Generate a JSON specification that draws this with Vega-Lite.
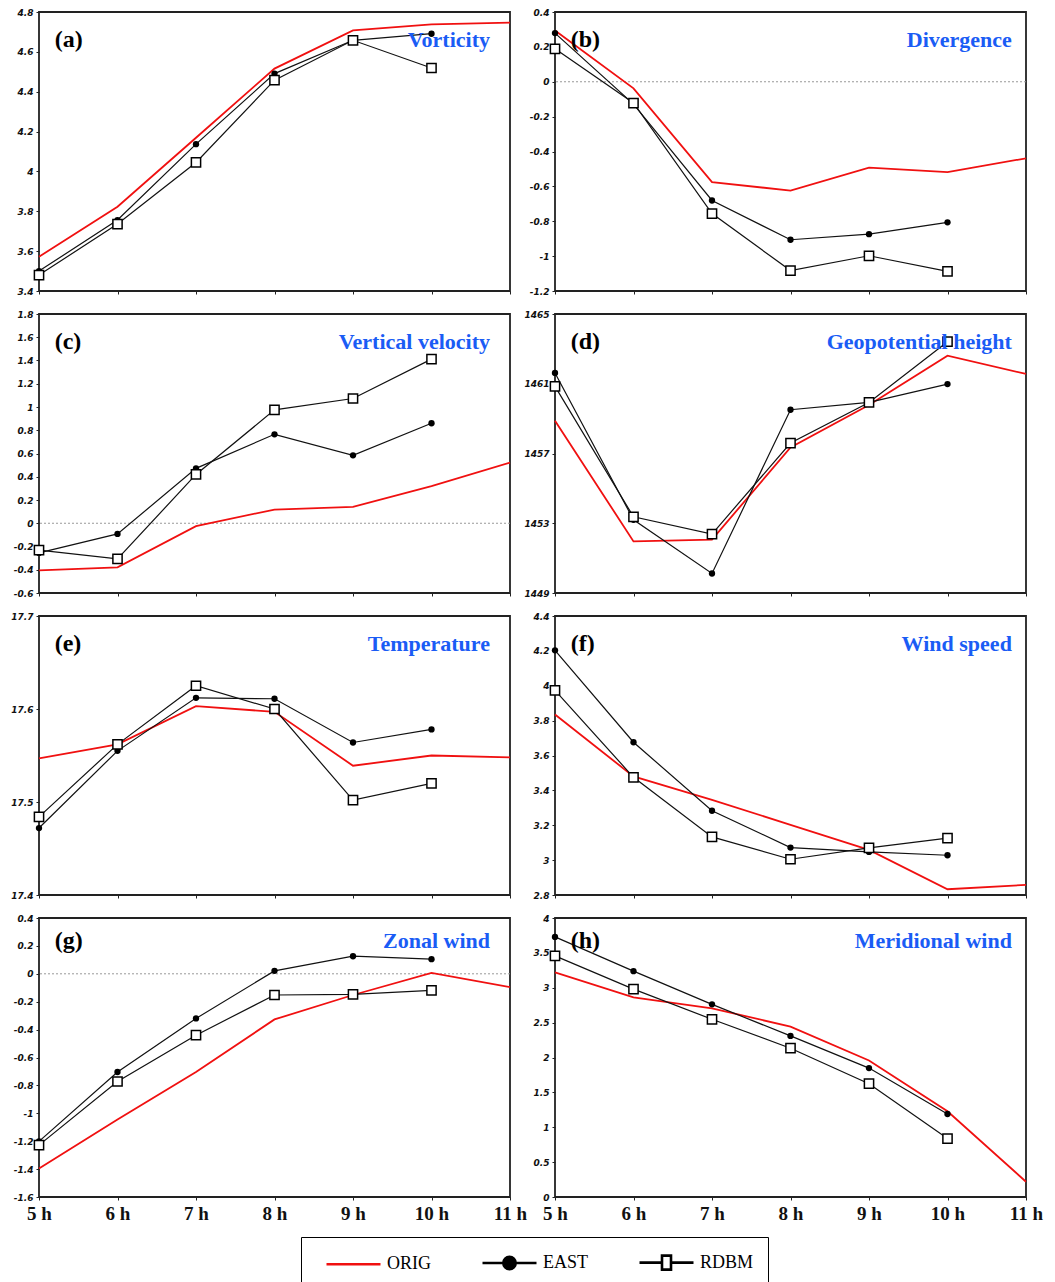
{
  "$schema": "https://vega.github.io/schema/vega-lite/v6.json",
  "background": "white",
  "padding": {"left": 9, "top": 7, "right": 5, "bottom": 0},
  "bounds": "flush",
  "spacing": {"row": 23, "column": 45},
  "columns": 2,
  "data": {"values": [
    {"panel":"a","series":"ORIG","hour":5,"value":3.572},{"panel":"a","series":"ORIG","hour":6,"value":3.823},{"panel":"a","series":"ORIG","hour":7,"value":4.169},{"panel":"a","series":"ORIG","hour":8,"value":4.516},{"panel":"a","series":"ORIG","hour":9,"value":4.708},{"panel":"a","series":"ORIG","hour":10,"value":4.738},{"panel":"a","series":"ORIG","hour":11,"value":4.747},
    {"panel":"a","series":"EAST","hour":5,"value":3.5},{"panel":"a","series":"EAST","hour":6,"value":3.756},{"panel":"a","series":"EAST","hour":7,"value":4.137},{"panel":"a","series":"EAST","hour":8,"value":4.491},{"panel":"a","series":"EAST","hour":9,"value":4.658},{"panel":"a","series":"EAST","hour":10,"value":4.691},
    {"panel":"a","series":"RDBM","hour":5,"value":3.48},{"panel":"a","series":"RDBM","hour":6,"value":3.736},{"panel":"a","series":"RDBM","hour":7,"value":4.045},{"panel":"a","series":"RDBM","hour":8,"value":4.458},{"panel":"a","series":"RDBM","hour":9,"value":4.658},{"panel":"a","series":"RDBM","hour":10,"value":4.519},
    {"panel":"b","series":"ORIG","hour":5,"value":0.294},{"panel":"b","series":"ORIG","hour":6,"value":-0.038},{"panel":"b","series":"ORIG","hour":7,"value":-0.576},{"panel":"b","series":"ORIG","hour":8,"value":-0.624},{"panel":"b","series":"ORIG","hour":9,"value":-0.493},{"panel":"b","series":"ORIG","hour":10,"value":-0.518},{"panel":"b","series":"ORIG","hour":11,"value":-0.439},
    {"panel":"b","series":"EAST","hour":5,"value":0.279},{"panel":"b","series":"EAST","hour":6,"value":-0.128},{"panel":"b","series":"EAST","hour":7,"value":-0.681},{"panel":"b","series":"EAST","hour":8,"value":-0.906},{"panel":"b","series":"EAST","hour":9,"value":-0.874},{"panel":"b","series":"EAST","hour":10,"value":-0.806},
    {"panel":"b","series":"RDBM","hour":5,"value":0.189},{"panel":"b","series":"RDBM","hour":6,"value":-0.122},{"panel":"b","series":"RDBM","hour":7,"value":-0.756},{"panel":"b","series":"RDBM","hour":8,"value":-1.083},{"panel":"b","series":"RDBM","hour":9,"value":-0.998},{"panel":"b","series":"RDBM","hour":10,"value":-1.087},
    {"panel":"c","series":"ORIG","hour":5,"value":-0.405},{"panel":"c","series":"ORIG","hour":6,"value":-0.379},{"panel":"c","series":"ORIG","hour":7,"value":-0.025},{"panel":"c","series":"ORIG","hour":8,"value":0.118},{"panel":"c","series":"ORIG","hour":9,"value":0.141},{"panel":"c","series":"ORIG","hour":10,"value":0.32},{"panel":"c","series":"ORIG","hour":11,"value":0.521},
    {"panel":"c","series":"EAST","hour":5,"value":-0.255},{"panel":"c","series":"EAST","hour":6,"value":-0.092},{"panel":"c","series":"EAST","hour":7,"value":0.472},{"panel":"c","series":"EAST","hour":8,"value":0.765},{"panel":"c","series":"EAST","hour":9,"value":0.584},{"panel":"c","series":"EAST","hour":10,"value":0.86},
    {"panel":"c","series":"RDBM","hour":5,"value":-0.232},{"panel":"c","series":"RDBM","hour":6,"value":-0.307},{"panel":"c","series":"RDBM","hour":7,"value":0.42},{"panel":"c","series":"RDBM","hour":8,"value":0.975},{"panel":"c","series":"RDBM","hour":9,"value":1.073},{"panel":"c","series":"RDBM","hour":10,"value":1.412},
    {"panel":"d","series":"ORIG","hour":5,"value":1458.88},{"panel":"d","series":"ORIG","hour":6,"value":1451.96},{"panel":"d","series":"ORIG","hour":7,"value":1452.06},{"panel":"d","series":"ORIG","hour":8,"value":1457.35},{"panel":"d","series":"ORIG","hour":9,"value":1459.78},{"panel":"d","series":"ORIG","hour":10,"value":1462.61},{"panel":"d","series":"ORIG","hour":11,"value":1461.56},
    {"panel":"d","series":"EAST","hour":5,"value":1461.62},{"panel":"d","series":"EAST","hour":6,"value":1453.2},{"panel":"d","series":"EAST","hour":7,"value":1450.12},{"panel":"d","series":"EAST","hour":8,"value":1459.51},{"panel":"d","series":"EAST","hour":9,"value":1459.93},{"panel":"d","series":"EAST","hour":10,"value":1460.98},
    {"panel":"d","series":"RDBM","hour":5,"value":1460.85},{"panel":"d","series":"RDBM","hour":6,"value":1453.37},{"panel":"d","series":"RDBM","hour":7,"value":1452.38},{"panel":"d","series":"RDBM","hour":8,"value":1457.6},{"panel":"d","series":"RDBM","hour":9,"value":1459.93},{"panel":"d","series":"RDBM","hour":10,"value":1463.41},
    {"panel":"e","series":"ORIG","hour":5,"value":17.547},{"panel":"e","series":"ORIG","hour":6,"value":17.562},{"panel":"e","series":"ORIG","hour":7,"value":17.603},{"panel":"e","series":"ORIG","hour":8,"value":17.597},{"panel":"e","series":"ORIG","hour":9,"value":17.539},{"panel":"e","series":"ORIG","hour":10,"value":17.55},{"panel":"e","series":"ORIG","hour":11,"value":17.548},
    {"panel":"e","series":"EAST","hour":5,"value":17.472},{"panel":"e","series":"EAST","hour":6,"value":17.555},{"panel":"e","series":"EAST","hour":7,"value":17.612},{"panel":"e","series":"EAST","hour":8,"value":17.611},{"panel":"e","series":"EAST","hour":9,"value":17.564},{"panel":"e","series":"EAST","hour":10,"value":17.578},
    {"panel":"e","series":"RDBM","hour":5,"value":17.484},{"panel":"e","series":"RDBM","hour":6,"value":17.562},{"panel":"e","series":"RDBM","hour":7,"value":17.625},{"panel":"e","series":"RDBM","hour":8,"value":17.6},{"panel":"e","series":"RDBM","hour":9,"value":17.502},{"panel":"e","series":"RDBM","hour":10,"value":17.52},
    {"panel":"f","series":"ORIG","hour":5,"value":3.835},{"panel":"f","series":"ORIG","hour":6,"value":3.48},{"panel":"f","series":"ORIG","hour":7,"value":3.346},{"panel":"f","series":"ORIG","hour":8,"value":3.202},{"panel":"f","series":"ORIG","hour":9,"value":3.059},{"panel":"f","series":"ORIG","hour":10,"value":2.833},{"panel":"f","series":"ORIG","hour":11,"value":2.858},
    {"panel":"f","series":"EAST","hour":5,"value":4.203},{"panel":"f","series":"EAST","hour":6,"value":3.676},{"panel":"f","series":"EAST","hour":7,"value":3.283},{"panel":"f","series":"EAST","hour":8,"value":3.072},{"panel":"f","series":"EAST","hour":9,"value":3.047},{"panel":"f","series":"EAST","hour":10,"value":3.028},
    {"panel":"f","series":"RDBM","hour":5,"value":3.973},{"panel":"f","series":"RDBM","hour":6,"value":3.475},{"panel":"f","series":"RDBM","hour":7,"value":3.133},{"panel":"f","series":"RDBM","hour":8,"value":3.005},{"panel":"f","series":"RDBM","hour":9,"value":3.07},{"panel":"f","series":"RDBM","hour":10,"value":3.126},
    {"panel":"g","series":"ORIG","hour":5,"value":-1.396},{"panel":"g","series":"ORIG","hour":6,"value":-1.045},{"panel":"g","series":"ORIG","hour":7,"value":-0.704},{"panel":"g","series":"ORIG","hour":8,"value":-0.327},{"panel":"g","series":"ORIG","hour":9,"value":-0.152},{"panel":"g","series":"ORIG","hour":10,"value":0.006},{"panel":"g","series":"ORIG","hour":11,"value":-0.095},
    {"panel":"g","series":"EAST","hour":5,"value":-1.201},{"panel":"g","series":"EAST","hour":6,"value":-0.704},{"panel":"g","series":"EAST","hour":7,"value":-0.32},{"panel":"g","series":"EAST","hour":8,"value":0.021},{"panel":"g","series":"EAST","hour":9,"value":0.126},{"panel":"g","series":"EAST","hour":10,"value":0.105},
    {"panel":"g","series":"RDBM","hour":5,"value":-1.228},{"panel":"g","series":"RDBM","hour":6,"value":-0.772},{"panel":"g","series":"RDBM","hour":7,"value":-0.44},{"panel":"g","series":"RDBM","hour":8,"value":-0.152},{"panel":"g","series":"RDBM","hour":9,"value":-0.147},{"panel":"g","series":"RDBM","hour":10,"value":-0.119},
    {"panel":"h","series":"ORIG","hour":5,"value":3.219},{"panel":"h","series":"ORIG","hour":6,"value":2.862},{"panel":"h","series":"ORIG","hour":7,"value":2.705},{"panel":"h","series":"ORIG","hour":8,"value":2.443},{"panel":"h","series":"ORIG","hour":9,"value":1.957},{"panel":"h","series":"ORIG","hour":10,"value":1.229},{"panel":"h","series":"ORIG","hour":11,"value":0.219},
    {"panel":"h","series":"EAST","hour":5,"value":3.729},{"panel":"h","series":"EAST","hour":6,"value":3.238},{"panel":"h","series":"EAST","hour":7,"value":2.762},{"panel":"h","series":"EAST","hour":8,"value":2.31},{"panel":"h","series":"EAST","hour":9,"value":1.848},{"panel":"h","series":"EAST","hour":10,"value":1.19},
    {"panel":"h","series":"RDBM","hour":5,"value":3.457},{"panel":"h","series":"RDBM","hour":6,"value":2.981},{"panel":"h","series":"RDBM","hour":7,"value":2.548},{"panel":"h","series":"RDBM","hour":8,"value":2.133},{"panel":"h","series":"RDBM","hour":9,"value":1.624},{"panel":"h","series":"RDBM","hour":10,"value":0.838}
  ]},
  "concat": [
    {
      "width": 471, "height": 279,
      "transform": [{"filter": "datum.panel === 'a'"}],
      "layer": [
        {"transform": [{"filter": "datum.series === 'ORIG'"}], "mark": {"type": "line", "color": "#f01010", "strokeWidth": 1.8},
         "encoding": {"x": {"field": "hour", "type": "quantitative", "scale": {"domain": [5, 11], "nice": false, "zero": false}, "axis": {"title": null, "values": [5,6,7,8,9,10,11], "labels": false}},
                      "y": {"field": "value", "type": "quantitative", "scale": {"domain": [3.4, 4.8], "nice": false, "zero": false}, "axis": {"title": null, "values": [3.4,3.6,3.8,4,4.2,4.4,4.6,4.8], "tickCount": 40, "labelExpr": "'' + datum.value", "labelOverlap": false}}}},
        {"transform": [{"filter": "datum.series === 'EAST'"}], "mark": {"type": "line", "color": "#111", "strokeWidth": 1.2, "point": {"filled": true, "color": "#000", "size": 40}},
         "encoding": {"x": {"field": "hour", "type": "quantitative"}, "y": {"field": "value", "type": "quantitative"}}},
        {"transform": [{"filter": "datum.series === 'RDBM'"}], "mark": {"type": "line", "color": "#111", "strokeWidth": 1.2, "point": {"shape": "square", "filled": true, "fill": "white", "stroke": "#000", "strokeWidth": 1.5, "size": 85}},
         "encoding": {"x": {"field": "hour", "type": "quantitative"}, "y": {"field": "value", "type": "quantitative"}}},
        {"transform": [{"filter": "datum.series === 'ORIG' && datum.hour === 5"}], "mark": {"type": "text", "text": "(a)", "align": "left", "baseline": "alphabetic", "font": "Liberation Serif", "fontSize": 24, "fontWeight": "bold", "color": "#000"},
         "encoding": {"x": {"datum": 5.2}, "y": {"datum": 4.624}}},
        {"transform": [{"filter": "datum.series === 'ORIG' && datum.hour === 5"}], "mark": {"type": "text", "text": "Vorticity", "align": "right", "baseline": "alphabetic", "font": "Liberation Serif", "fontSize": 22, "fontWeight": "bold", "color": "#1a5cf5"},
         "encoding": {"x": {"datum": 10.745}, "y": {"datum": 4.624}}}
      ]
    },
    {
      "width": 471, "height": 279,
      "transform": [{"filter": "datum.panel === 'b'"}],
      "layer": [
        {"transform": [{"filter": "datum.series === 'ORIG' && datum.hour === 5"}], "mark": {"type": "rule", "color": "#999", "strokeDash": [2, 2], "strokeWidth": 1}, "encoding": {"y": {"datum": 0}}},
        {"transform": [{"filter": "datum.series === 'ORIG'"}], "mark": {"type": "line", "color": "#f01010", "strokeWidth": 1.8},
         "encoding": {"x": {"field": "hour", "type": "quantitative", "scale": {"domain": [5, 11], "nice": false, "zero": false}, "axis": {"title": null, "values": [5,6,7,8,9,10,11], "labels": false}},
                      "y": {"field": "value", "type": "quantitative", "scale": {"domain": [-1.2, 0.4], "nice": false, "zero": false}, "axis": {"title": null, "values": [-1.2,-1,-0.8,-0.6,-0.4,-0.2,0,0.2,0.4], "tickCount": 40, "labelExpr": "'' + datum.value", "labelOverlap": false}}}},
        {"transform": [{"filter": "datum.series === 'EAST'"}], "mark": {"type": "line", "color": "#111", "strokeWidth": 1.2, "point": {"filled": true, "color": "#000", "size": 40}},
         "encoding": {"x": {"field": "hour", "type": "quantitative"}, "y": {"field": "value", "type": "quantitative"}}},
        {"transform": [{"filter": "datum.series === 'RDBM'"}], "mark": {"type": "line", "color": "#111", "strokeWidth": 1.2, "point": {"shape": "square", "filled": true, "fill": "white", "stroke": "#000", "strokeWidth": 1.5, "size": 85}},
         "encoding": {"x": {"field": "hour", "type": "quantitative"}, "y": {"field": "value", "type": "quantitative"}}},
        {"transform": [{"filter": "datum.series === 'ORIG' && datum.hour === 5"}], "mark": {"type": "text", "text": "(b)", "align": "left", "baseline": "alphabetic", "font": "Liberation Serif", "fontSize": 24, "fontWeight": "bold", "color": "#000"},
         "encoding": {"x": {"datum": 5.2}, "y": {"datum": 0.199}}},
        {"transform": [{"filter": "datum.series === 'ORIG' && datum.hour === 5"}], "mark": {"type": "text", "text": "Divergence", "align": "right", "baseline": "alphabetic", "font": "Liberation Serif", "fontSize": 22, "fontWeight": "bold", "color": "#1a5cf5"},
         "encoding": {"x": {"datum": 10.82}, "y": {"datum": 0.199}}}
      ]
    },
    {
      "width": 471, "height": 279,
      "transform": [{"filter": "datum.panel === 'c'"}],
      "layer": [
        {"transform": [{"filter": "datum.series === 'ORIG' && datum.hour === 5"}], "mark": {"type": "rule", "color": "#999", "strokeDash": [2, 2], "strokeWidth": 1}, "encoding": {"y": {"datum": 0}}},
        {"transform": [{"filter": "datum.series === 'ORIG'"}], "mark": {"type": "line", "color": "#f01010", "strokeWidth": 1.8},
         "encoding": {"x": {"field": "hour", "type": "quantitative", "scale": {"domain": [5, 11], "nice": false, "zero": false}, "axis": {"title": null, "values": [5,6,7,8,9,10,11], "labels": false}},
                      "y": {"field": "value", "type": "quantitative", "scale": {"domain": [-0.6, 1.8], "nice": false, "zero": false}, "axis": {"title": null, "values": [-0.6,-0.4,-0.2,0,0.2,0.4,0.6,0.8,1,1.2,1.4,1.6,1.8], "tickCount": 40, "labelExpr": "'' + datum.value", "labelOverlap": false}}}},
        {"transform": [{"filter": "datum.series === 'EAST'"}], "mark": {"type": "line", "color": "#111", "strokeWidth": 1.2, "point": {"filled": true, "color": "#000", "size": 40}},
         "encoding": {"x": {"field": "hour", "type": "quantitative"}, "y": {"field": "value", "type": "quantitative"}}},
        {"transform": [{"filter": "datum.series === 'RDBM'"}], "mark": {"type": "line", "color": "#111", "strokeWidth": 1.2, "point": {"shape": "square", "filled": true, "fill": "white", "stroke": "#000", "strokeWidth": 1.5, "size": 85}},
         "encoding": {"x": {"field": "hour", "type": "quantitative"}, "y": {"field": "value", "type": "quantitative"}}},
        {"transform": [{"filter": "datum.series === 'ORIG' && datum.hour === 5"}], "mark": {"type": "text", "text": "(c)", "align": "left", "baseline": "alphabetic", "font": "Liberation Serif", "fontSize": 24, "fontWeight": "bold", "color": "#000"},
         "encoding": {"x": {"datum": 5.2}, "y": {"datum": 1.499}}},
        {"transform": [{"filter": "datum.series === 'ORIG' && datum.hour === 5"}], "mark": {"type": "text", "text": "Vertical velocity", "align": "right", "baseline": "alphabetic", "font": "Liberation Serif", "fontSize": 22, "fontWeight": "bold", "color": "#1a5cf5"},
         "encoding": {"x": {"datum": 10.745}, "y": {"datum": 1.499}}}
      ]
    },
    {
      "width": 471, "height": 279,
      "transform": [{"filter": "datum.panel === 'd'"}],
      "layer": [
        {"transform": [{"filter": "datum.series === 'ORIG'"}], "mark": {"type": "line", "color": "#f01010", "strokeWidth": 1.8},
         "encoding": {"x": {"field": "hour", "type": "quantitative", "scale": {"domain": [5, 11], "nice": false, "zero": false}, "axis": {"title": null, "values": [5,6,7,8,9,10,11], "labels": false}},
                      "y": {"field": "value", "type": "quantitative", "scale": {"domain": [1449, 1465], "nice": false, "zero": false}, "axis": {"title": null, "values": [1449,1453,1457,1461,1465], "tickCount": 40, "labelExpr": "'' + datum.value", "labelOverlap": false}}}},
        {"transform": [{"filter": "datum.series === 'EAST'"}], "mark": {"type": "line", "color": "#111", "strokeWidth": 1.2, "point": {"filled": true, "color": "#000", "size": 40}},
         "encoding": {"x": {"field": "hour", "type": "quantitative"}, "y": {"field": "value", "type": "quantitative"}}},
        {"transform": [{"filter": "datum.series === 'RDBM'"}], "mark": {"type": "line", "color": "#111", "strokeWidth": 1.2, "point": {"shape": "square", "filled": true, "fill": "white", "stroke": "#000", "strokeWidth": 1.5, "size": 85}},
         "encoding": {"x": {"field": "hour", "type": "quantitative"}, "y": {"field": "value", "type": "quantitative"}}},
        {"transform": [{"filter": "datum.series === 'ORIG' && datum.hour === 5"}], "mark": {"type": "text", "text": "(d)", "align": "left", "baseline": "alphabetic", "font": "Liberation Serif", "fontSize": 24, "fontWeight": "bold", "color": "#000"},
         "encoding": {"x": {"datum": 5.2}, "y": {"datum": 1462.99}}},
        {"transform": [{"filter": "datum.series === 'ORIG' && datum.hour === 5"}], "mark": {"type": "text", "text": "Geopotential height", "align": "right", "baseline": "alphabetic", "font": "Liberation Serif", "fontSize": 22, "fontWeight": "bold", "color": "#1a5cf5"},
         "encoding": {"x": {"datum": 10.82}, "y": {"datum": 1462.99}}}
      ]
    },
    {
      "width": 471, "height": 279,
      "transform": [{"filter": "datum.panel === 'e'"}],
      "layer": [
        {"transform": [{"filter": "datum.series === 'ORIG'"}], "mark": {"type": "line", "color": "#f01010", "strokeWidth": 1.8},
         "encoding": {"x": {"field": "hour", "type": "quantitative", "scale": {"domain": [5, 11], "nice": false, "zero": false}, "axis": {"title": null, "values": [5,6,7,8,9,10,11], "labels": false}},
                      "y": {"field": "value", "type": "quantitative", "scale": {"domain": [17.4, 17.7], "nice": false, "zero": false}, "axis": {"title": null, "values": [17.4,17.5,17.6,17.7], "tickCount": 40, "labelExpr": "'' + datum.value", "labelOverlap": false}}}},
        {"transform": [{"filter": "datum.series === 'EAST'"}], "mark": {"type": "line", "color": "#111", "strokeWidth": 1.2, "point": {"filled": true, "color": "#000", "size": 40}},
         "encoding": {"x": {"field": "hour", "type": "quantitative"}, "y": {"field": "value", "type": "quantitative"}}},
        {"transform": [{"filter": "datum.series === 'RDBM'"}], "mark": {"type": "line", "color": "#111", "strokeWidth": 1.2, "point": {"shape": "square", "filled": true, "fill": "white", "stroke": "#000", "strokeWidth": 1.5, "size": 85}},
         "encoding": {"x": {"field": "hour", "type": "quantitative"}, "y": {"field": "value", "type": "quantitative"}}},
        {"transform": [{"filter": "datum.series === 'ORIG' && datum.hour === 5"}], "mark": {"type": "text", "text": "(e)", "align": "left", "baseline": "alphabetic", "font": "Liberation Serif", "fontSize": 24, "fontWeight": "bold", "color": "#000"},
         "encoding": {"x": {"datum": 5.2}, "y": {"datum": 17.662}}},
        {"transform": [{"filter": "datum.series === 'ORIG' && datum.hour === 5"}], "mark": {"type": "text", "text": "Temperature", "align": "right", "baseline": "alphabetic", "font": "Liberation Serif", "fontSize": 22, "fontWeight": "bold", "color": "#1a5cf5"},
         "encoding": {"x": {"datum": 10.745}, "y": {"datum": 17.662}}}
      ]
    },
    {
      "width": 471, "height": 279,
      "transform": [{"filter": "datum.panel === 'f'"}],
      "layer": [
        {"transform": [{"filter": "datum.series === 'ORIG'"}], "mark": {"type": "line", "color": "#f01010", "strokeWidth": 1.8},
         "encoding": {"x": {"field": "hour", "type": "quantitative", "scale": {"domain": [5, 11], "nice": false, "zero": false}, "axis": {"title": null, "values": [5,6,7,8,9,10,11], "labels": false}},
                      "y": {"field": "value", "type": "quantitative", "scale": {"domain": [2.8, 4.4], "nice": false, "zero": false}, "axis": {"title": null, "values": [2.8,3,3.2,3.4,3.6,3.8,4,4.2,4.4], "tickCount": 40, "labelExpr": "'' + datum.value", "labelOverlap": false}}}},
        {"transform": [{"filter": "datum.series === 'EAST'"}], "mark": {"type": "line", "color": "#111", "strokeWidth": 1.2, "point": {"filled": true, "color": "#000", "size": 40}},
         "encoding": {"x": {"field": "hour", "type": "quantitative"}, "y": {"field": "value", "type": "quantitative"}}},
        {"transform": [{"filter": "datum.series === 'RDBM'"}], "mark": {"type": "line", "color": "#111", "strokeWidth": 1.2, "point": {"shape": "square", "filled": true, "fill": "white", "stroke": "#000", "strokeWidth": 1.5, "size": 85}},
         "encoding": {"x": {"field": "hour", "type": "quantitative"}, "y": {"field": "value", "type": "quantitative"}}},
        {"transform": [{"filter": "datum.series === 'ORIG' && datum.hour === 5"}], "mark": {"type": "text", "text": "(f)", "align": "left", "baseline": "alphabetic", "font": "Liberation Serif", "fontSize": 24, "fontWeight": "bold", "color": "#000"},
         "encoding": {"x": {"datum": 5.2}, "y": {"datum": 4.199}}},
        {"transform": [{"filter": "datum.series === 'ORIG' && datum.hour === 5"}], "mark": {"type": "text", "text": "Wind speed", "align": "right", "baseline": "alphabetic", "font": "Liberation Serif", "fontSize": 22, "fontWeight": "bold", "color": "#1a5cf5"},
         "encoding": {"x": {"datum": 10.82}, "y": {"datum": 4.199}}}
      ]
    },
    {
      "width": 471, "height": 279,
      "transform": [{"filter": "datum.panel === 'g'"}],
      "layer": [
        {"transform": [{"filter": "datum.series === 'ORIG' && datum.hour === 5"}], "mark": {"type": "rule", "color": "#999", "strokeDash": [2, 2], "strokeWidth": 1}, "encoding": {"y": {"datum": 0}}},
        {"transform": [{"filter": "datum.series === 'ORIG'"}], "mark": {"type": "line", "color": "#f01010", "strokeWidth": 1.8},
         "encoding": {"x": {"field": "hour", "type": "quantitative", "scale": {"domain": [5, 11], "nice": false, "zero": false}, "axis": {"title": null, "values": [5,6,7,8,9,10,11], "labelExpr": "datum.value + ' h'", "labelFont": "Liberation Serif", "labelFontSize": 19, "labelFontStyle": "normal", "labelFontWeight": "bold", "labelPadding": 4, "labelOverlap": false}},
                      "y": {"field": "value", "type": "quantitative", "scale": {"domain": [-1.6, 0.4], "nice": false, "zero": false}, "axis": {"title": null, "values": [-1.6,-1.4,-1.2,-1,-0.8,-0.6,-0.4,-0.2,0,0.2,0.4], "tickCount": 40, "labelExpr": "'' + datum.value", "labelOverlap": false}}}},
        {"transform": [{"filter": "datum.series === 'EAST'"}], "mark": {"type": "line", "color": "#111", "strokeWidth": 1.2, "point": {"filled": true, "color": "#000", "size": 40}},
         "encoding": {"x": {"field": "hour", "type": "quantitative"}, "y": {"field": "value", "type": "quantitative"}}},
        {"transform": [{"filter": "datum.series === 'RDBM'"}], "mark": {"type": "line", "color": "#111", "strokeWidth": 1.2, "point": {"shape": "square", "filled": true, "fill": "white", "stroke": "#000", "strokeWidth": 1.5, "size": 85}},
         "encoding": {"x": {"field": "hour", "type": "quantitative"}, "y": {"field": "value", "type": "quantitative"}}},
        {"mark": {"type": "point", "opacity": 0},
         "encoding": {"x": {"field": "hour", "type": "quantitative"}, "y": {"field": "value", "type": "quantitative"},
                      "shape": {"field": "series", "type": "nominal",
                                "scale": {"domain": ["ORIG", "EAST", "RDBM"], "range": ["M-2.7,0H2.7", "M-2.7,0H-0.62M0.62,0H2.7M-0.62,0A0.62,0.62 0 1,0 0.62,0A0.62,0.62 0 1,0 -0.62,0Z", "M-2.7,0H-0.45M0.45,0H2.7M-0.45,-0.7H0.45V0.7H-0.45Z"]},
                                "legend": {"title": null, "orient": "none", "legendX": 262, "legendY": 1225, "direction": "horizontal",
                                           "labelFont": "Liberation Serif", "labelFontSize": 18, "labelColor": "#000", "labelOffset": 22,
                                           "symbolSize": 400, "symbolStrokeWidth": 2.6, "symbolOffset": 27, "symbolOpacity": 1, "columnPadding": 40, "padding": 14, "strokeColor": "#000",
                                           "encode": {"legend": {"strokeWidth": {"value": 1.5}}}}},
                      "stroke": {"field": "series", "type": "nominal",
                                 "scale": {"domain": ["ORIG", "EAST", "RDBM"], "range": ["#f01010", "#000000", "#000000"]},
                                 "legend": {"title": null, "orient": "none", "legendX": 262, "legendY": 1225, "direction": "horizontal",
                                           "labelFont": "Liberation Serif", "labelFontSize": 18, "labelColor": "#000", "labelOffset": 22,
                                           "symbolSize": 400, "symbolStrokeWidth": 2.6, "symbolOffset": 27, "symbolOpacity": 1, "columnPadding": 40, "padding": 14, "strokeColor": "#000"}},
                      "fill": {"field": "series", "type": "nominal",
                               "scale": {"domain": ["ORIG", "EAST", "RDBM"], "range": ["#000000", "#000000", "#ffffff"]},
                               "legend": {"title": null, "orient": "none", "legendX": 262, "legendY": 1225, "direction": "horizontal",
                                           "labelFont": "Liberation Serif", "labelFontSize": 18, "labelColor": "#000", "labelOffset": 22,
                                           "symbolSize": 400, "symbolStrokeWidth": 2.6, "symbolOffset": 27, "symbolOpacity": 1, "columnPadding": 40, "padding": 14, "strokeColor": "#000"}}}},
        {"transform": [{"filter": "datum.series === 'ORIG' && datum.hour === 5"}], "mark": {"type": "text", "text": "(g)", "align": "left", "baseline": "alphabetic", "font": "Liberation Serif", "fontSize": 24, "fontWeight": "bold", "color": "#000"},
         "encoding": {"x": {"datum": 5.2}, "y": {"datum": 0.185}}},
        {"transform": [{"filter": "datum.series === 'ORIG' && datum.hour === 5"}], "mark": {"type": "text", "text": "Zonal wind", "align": "right", "baseline": "alphabetic", "font": "Liberation Serif", "fontSize": 22, "fontWeight": "bold", "color": "#1a5cf5"},
         "encoding": {"x": {"datum": 10.745}, "y": {"datum": 0.185}}}
      ]
    },
    {
      "width": 471, "height": 279,
      "transform": [{"filter": "datum.panel === 'h'"}],
      "layer": [
        {"transform": [{"filter": "datum.series === 'ORIG'"}], "mark": {"type": "line", "color": "#f01010", "strokeWidth": 1.8},
         "encoding": {"x": {"field": "hour", "type": "quantitative", "scale": {"domain": [5, 11], "nice": false, "zero": false}, "axis": {"title": null, "values": [5,6,7,8,9,10,11], "labelExpr": "datum.value + ' h'", "labelFont": "Liberation Serif", "labelFontSize": 19, "labelFontStyle": "normal", "labelFontWeight": "bold", "labelPadding": 4, "labelOverlap": false}},
                      "y": {"field": "value", "type": "quantitative", "scale": {"domain": [0, 4], "nice": false, "zero": false}, "axis": {"title": null, "values": [0,0.5,1,1.5,2,2.5,3,3.5,4], "tickCount": 40, "labelExpr": "'' + datum.value", "labelOverlap": false}}}},
        {"transform": [{"filter": "datum.series === 'EAST'"}], "mark": {"type": "line", "color": "#111", "strokeWidth": 1.2, "point": {"filled": true, "color": "#000", "size": 40}},
         "encoding": {"x": {"field": "hour", "type": "quantitative"}, "y": {"field": "value", "type": "quantitative"}}},
        {"transform": [{"filter": "datum.series === 'RDBM'"}], "mark": {"type": "line", "color": "#111", "strokeWidth": 1.2, "point": {"shape": "square", "filled": true, "fill": "white", "stroke": "#000", "strokeWidth": 1.5, "size": 85}},
         "encoding": {"x": {"field": "hour", "type": "quantitative"}, "y": {"field": "value", "type": "quantitative"}}},
        {"transform": [{"filter": "datum.series === 'ORIG' && datum.hour === 5"}], "mark": {"type": "text", "text": "(h)", "align": "left", "baseline": "alphabetic", "font": "Liberation Serif", "fontSize": 24, "fontWeight": "bold", "color": "#000"},
         "encoding": {"x": {"datum": 5.2}, "y": {"datum": 3.57}}},
        {"transform": [{"filter": "datum.series === 'ORIG' && datum.hour === 5"}], "mark": {"type": "text", "text": "Meridional wind", "align": "right", "baseline": "alphabetic", "font": "Liberation Serif", "fontSize": 22, "fontWeight": "bold", "color": "#1a5cf5"},
         "encoding": {"x": {"datum": 10.82}, "y": {"datum": 3.57}}}
      ]
    }
  ],
  "config": {
    "view": {"stroke": "#222", "strokeWidth": 1.8},
    "axis": {"grid": false, "domain": false, "labelFont": "DejaVu Sans", "labelFontSize": 9, "labelFontWeight": "bold", "labelFontStyle": "italic", "labelColor": "#111", "tickColor": "#222", "tickSize": 3, "labelOverlap": false},
    "axisY": {"labelPadding": 3},
    "axisX": {"labelFlush": false}
  }
}
